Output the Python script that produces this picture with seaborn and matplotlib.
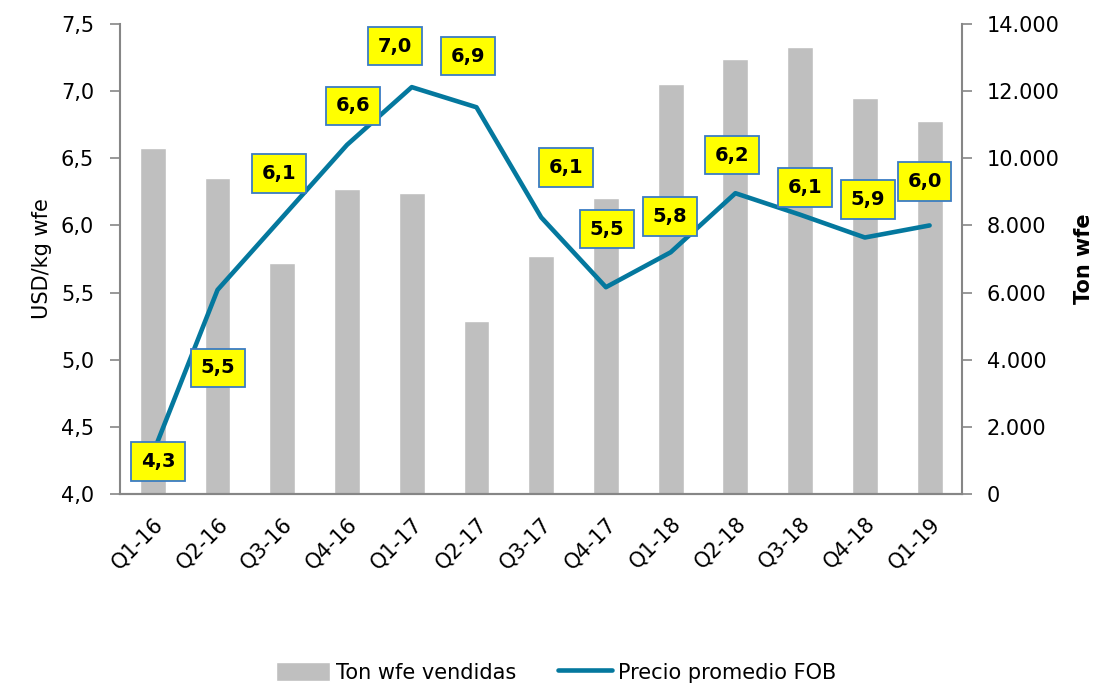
import numpy as np
import pandas as pd
import matplotlib
matplotlib.use("Agg")
import matplotlib.pyplot as plt
import seaborn as sns
from matplotlib.ticker import FuncFormatter, FixedLocator

# data
quarters = ['Q1-16', 'Q2-16', 'Q3-16', 'Q4-16', 'Q1-17', 'Q2-17', 'Q3-17',
            'Q4-17', 'Q1-18', 'Q2-18', 'Q3-18', 'Q4-18', 'Q1-19']
ton_vendidas = [10300, 9410, 6880, 9080, 8960, 5140, 7090,
                8830, 12220, 12970, 13320, 11800, 11100]
precio_fob = [4.30, 5.52, 6.06, 6.60, 7.03, 6.88, 6.06,
              5.54, 5.80, 6.24, 6.08, 5.91, 6.00]

# label offsets from each point, in pixels (x right, y up)
label_offsets = [(5, -8), (0, -78), (-3, 44), (6, 39), (-17, 41), (-8, 51), (25, 50),
                 (1, 58), (-1, 36), (-3, 38), (5, 27), (3, 38), (-5, 44)]

df = pd.DataFrame({'Trimestre': quarters, 'Ton': ton_vendidas, 'Precio': precio_fob})
df['pos'] = np.arange(len(df))

sns.set_style("white")
plt.rcParams['font.family'] = ['DejaVu Sans']
plt.rcParams['text.color'] = 'black'
plt.rcParams['axes.labelcolor'] = 'black'
plt.rcParams['xtick.color'] = 'black'
plt.rcParams['ytick.color'] = 'black'

fig = plt.figure(figsize=(10.99, 6.86), dpi=100)
ax = fig.add_axes([0.1096, 0.2799, 0.7657, 0.6851])
ax2 = ax.twinx()

# bars on the secondary (right) axis, drawn behind the line
sns.barplot(data=df, x='pos', y='Ton', ax=ax2, color='#BFBFBF', width=0.4,
            saturation=1, label='Ton wfe vendidas', native_scale=True)
sns.lineplot(data=df, x='pos', y='Precio', ax=ax, color='#04789E', linewidth=3.3,
             label='Precio promedio FOB')
ax.set_zorder(ax2.get_zorder() + 1)
ax.patch.set_visible(False)

ax.set_xlim(-0.5, len(quarters) - 0.5)
ax.set_ylim(4.0, 7.5)
ax2.set_ylim(0, 14000)

# value labels
for i, (v, off) in enumerate(zip(precio_fob, label_offsets)):
    ax.annotate(f"{v:.1f}".replace('.', ','), xy=(i, v), xytext=off,
                textcoords='offset pixels', ha='center', va='center',
                fontsize=14, fontweight='bold', color='black',
                bbox=dict(boxstyle='square,pad=0.5', facecolor='#FFFF00',
                          edgecolor='#3A7CC4', linewidth=1.3))

# axes formatting
gray = '#868686'
ax.set_yticks(np.arange(4.0, 7.51, 0.5))
ax.yaxis.set_major_formatter(FuncFormatter(lambda v, p: f"{v:.1f}".replace('.', ',')))
ax2.set_yticks(np.arange(0, 14001, 2000))
ax2.yaxis.set_major_formatter(FuncFormatter(lambda v, p: f"{int(v):,}".replace(',', '.')))

ax.xaxis.set_major_locator(FixedLocator(np.arange(len(quarters))))
ax.set_xticklabels(quarters)
ax.xaxis.set_minor_locator(FixedLocator(np.arange(-0.5, len(quarters), 1.0)))
ax.tick_params(axis='x', which='major', length=0, pad=14, labelsize=15)
ax.tick_params(axis='x', which='minor', length=7, width=1.2, color=gray)
for lbl in ax.get_xticklabels():
    lbl.set_rotation(45)
    lbl.set_ha('right')
    lbl.set_rotation_mode('anchor')

ax.tick_params(axis='y', length=7, width=1.2, color=gray, labelcolor='black',
               labelsize=15, left=True, pad=12)
ax2.tick_params(axis='y', length=7, width=1.2, color=gray, labelcolor='black',
                labelsize=15, right=True, pad=11)

for a in (ax, ax2):
    a.spines['top'].set_visible(False)
    for s in ('left', 'right', 'bottom'):
        a.spines[s].set_color(gray)
        a.spines[s].set_linewidth(1.5)
ax.spines['right'].set_visible(False)
ax2.spines['left'].set_visible(False)

ax.set_xlabel('')
ax.set_ylabel('USD/kg wfe', fontsize=15, labelpad=6)
ax2.set_ylabel('Ton wfe', fontsize=15, fontweight='bold', labelpad=10)
ax2.set_xlabel('')

# legend at the bottom
h1, l1 = ax2.get_legend_handles_labels()
h2, l2 = ax.get_legend_handles_labels()
if ax.get_legend():
    ax.get_legend().remove()
if ax2.get_legend():
    ax2.get_legend().remove()
fig.legend(h1 + h2, l1 + l2, loc='center', bbox_to_anchor=(0.506, 0.02), ncol=2,
           frameon=False, fontsize=15, handlelength=2.6, handleheight=1.0,
           handletextpad=0.3, columnspacing=2.0)

plt.savefig('out.png', dpi=100, facecolor='white')
